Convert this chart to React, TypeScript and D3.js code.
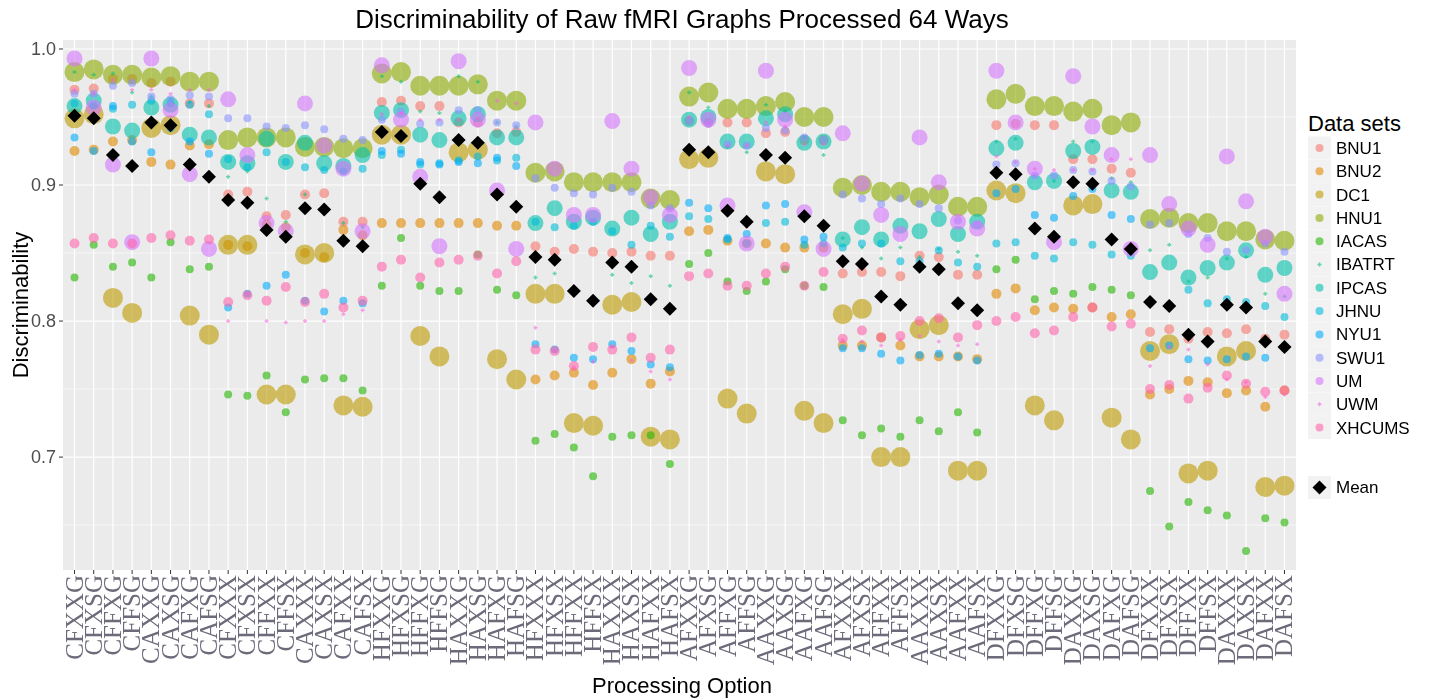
import React from 'react';
import * as d3 from 'd3';

const seriesNames = ['BNU1', 'BNU2', 'DC1', 'HNU1', 'IACAS', 'IBATRT', 'IPCAS', 'JHNU', 'NYU1', 'SWU1', 'UM', 'UWM', 'XHCUMS'];
const seriesColors = ['#F8766D', '#E18A00', '#BE9C00', '#8CAB00', '#24B700', '#00BE70', '#00C1AB', '#00BBDA', '#00ACFC', '#8B93FF', '#D575FE', '#F962DD', '#FF65AC'];
const pointRadius = [5, 5, 10, 10, 4, 1.8, 8, 4, 4, 4, 8, 1.8, 5];

// category labels: 4 x 16 processing options
const c1 = ['C', 'H', 'A', 'D'];
const categories = d3.range(64).map(i =>
  c1[Math.floor(i / 16)] + ((i % 8) < 4 ? 'F' : 'A') + ((i % 4) < 2 ? 'X' : 'F') + (i % 2 === 0 ? 'X' : 'S') + ((i % 16) < 8 ? 'G' : 'X'));

const BNU1 = [.970,.971,.978,.978,.975,.976,.960,.960,.893,.895,.877,.878,.893,.894,.873,.873,
  .961,.962,.958,.958,.946,.946,.938,.939,.855,.851,.853,.851,.850,.851,.848,.848,
  .947,.946,.946,.946,.938,.939,.933,.933,.835,.836,.836,.833,.848,.847,.834,.834,
  .944,.945,.944,.944,.919,.919,.912,.909,.792,.794,.787,.792,.791,.794,.787,.790];
const BNU2 = [.925,.926,.932,.933,.917,.915,.929,.930,.856,.855,.871,.869,.850,.847,.867,.863,
  .872,.872,.872,.872,.872,.872,.870,.870,.757,.760,.762,.753,.762,.772,.754,.763,
  .866,.867,.859,.857,.857,.854,.854,.854,.782,.782,.788,.782,.774,.774,.774,.772,
  .820,.824,.808,.810,.809,.810,.803,.805,.746,.750,.756,.755,.747,.749,.737,.749];
const DC1 = [.949,.952,.817,.806,.942,.944,.804,.790,.856,.856,.746,.746,.849,.850,.738,.737,
  .937,.937,.789,.774,.924,.926,.772,.757,.820,.820,.725,.723,.812,.814,.715,.713,
  .919,.920,.743,.732,.910,.908,.734,.725,.805,.809,.700,.700,.794,.797,.690,.690,
  .896,.894,.738,.727,.885,.886,.729,.713,.778,.783,.688,.690,.774,.778,.678,.679];
const HNU1 = [.983,.985,.981,.981,.979,.980,.976,.976,.933,.935,.935,.935,.928,.928,.927,.927,
  .982,.983,.973,.973,.973,.974,.962,.962,.909,.910,.902,.902,.902,.902,.890,.889,
  .965,.968,.956,.956,.958,.961,.950,.950,.898,.900,.895,.895,.891,.893,.884,.884,
  .963,.967,.958,.958,.954,.956,.944,.946,.875,.876,.872,.872,.866,.866,.860,.859];
const IACAS = [.832,.856,.840,.843,.832,.858,.838,.840,.746,.745,.760,.733,.757,.758,.758,.749,
  .826,.861,.826,.822,.822,.849,.823,.819,.712,.717,.707,.686,.715,.716,.716,.695,
  .842,.850,.829,.822,.829,.838,.826,.825,.727,.716,.721,.715,.727,.719,.733,.718,
  .838,.845,.816,.822,.820,.825,.823,.819,.675,.649,.667,.661,.657,.631,.655,.652];
const IBATRT = [.983,.981,.982,.968,.965,.963,.961,.958,.906,.910,.890,.873,.893,.883,.872,.869,
  .980,.976,.954,.953,.980,.976,.946,.943,.832,.835,.821,.812,.834,.828,.833,.826,
  .968,.957,.928,.924,.959,.954,.935,.922,.861,.854,.846,.854,.847,.853,.851,.848,
  .932,.934,.907,.903,.932,.932,.905,.902,.852,.856,.829,.832,.846,.847,.820,.818];
const IPCAS = [.958,.962,.943,.940,.957,.959,.937,.935,.917,.916,.934,.917,.931,.916,.914,.922,
  .953,.955,.937,.933,.949,.952,.935,.935,.872,.883,.873,.876,.868,.876,.864,.873,
  .948,.950,.932,.932,.949,.952,.931,.932,.860,.869,.860,.870,.866,.875,.864,.873,
  .927,.931,.902,.903,.925,.928,.896,.895,.836,.843,.832,.839,.843,.852,.834,.839];
const JHNU = [.960,.958,.956,.959,.962,.960,.959,.952,.919,.913,.924,.917,.913,.911,.910,.912,
  .922,.926,.915,.916,.918,.921,.918,.920,.873,.869,.870,.873,.866,.856,.870,.862,
  .877,.875,.860,.857,.872,.873,.856,.857,.854,.857,.857,.844,.844,.852,.843,.840,
  .857,.858,.848,.846,.858,.856,.849,.848,.814,.812,.823,.813,.816,.814,.811,.803];
const NYU1 = [.935,.925,.958,.932,.924,.942,.932,.923,.810,.820,.826,.834,.815,.807,.815,.813,
  .925,.923,.917,.915,.917,.916,.920,.914,.783,.779,.773,.772,.783,.778,.768,.766,
  .887,.883,.861,.864,.885,.886,.860,.862,.780,.780,.776,.771,.775,.776,.774,.771,
  .894,.897,.878,.876,.892,.897,.878,.875,.780,.782,.772,.771,.772,.774,.773,.780];
const SWU1 = [.967,.967,.973,.975,.965,.963,.966,.965,.949,.949,.943,.942,.944,.941,.934,.933,
  .948,.954,.945,.946,.955,.955,.946,.944,.905,.898,.894,.893,.898,.895,.885,.883,
  .947,.945,.930,.929,.942,.940,.935,.933,.893,.890,.886,.890,.886,.883,.874,.871,
  .915,.916,.907,.907,.911,.910,.903,.899,.871,.872,.864,.861,.851,.852,.857,.851];
const UM = [.993,.957,.915,.858,.993,.955,.908,.853,.963,.922,.872,.866,.960,.929,.912,.866,
  .988,.948,.906,.855,.991,.948,.896,.853,.946,.912,.878,.878,.947,.912,.891,.878,
  .986,.948,.885,.857,.984,.948,.880,.853,.938,.901,.878,.864,.935,.902,.873,.868,
  .984,.946,.912,.858,.980,.943,.922,.853,.922,.886,.868,.856,.921,.888,.862,.820];
const UWM = [.970,.967,.977,.970,.970,.967,.970,.970,.800,.820,.800,.799,.800,.800,.805,.808,
  .952,.953,.948,.948,.948,.949,.962,.960,.795,.778,.766,.770,.781,.771,.763,.757,
  .950,.946,.929,.929,.946,.943,.930,.930,.786,.785,.782,.786,.789,.785,.782,.783,
  .921,.917,.912,.911,.911,.911,.919,.919,.767,.781,.779,.768,.757,.755,.744,.746];
const XHCUMS = [.857,.861,.857,.857,.861,.863,.859,.860,.814,.819,.815,.825,.814,.820,.810,.815,
  .840,.845,.832,.843,.845,.848,.835,.844,.779,.778,.767,.781,.779,.788,.773,.779,
  .833,.835,.826,.826,.835,.840,.826,.836,.787,.793,.788,.789,.800,.802,.788,.797,
  .800,.803,.791,.793,.803,.810,.796,.798,.750,.753,.743,.751,.760,.754,.748,.749];
const meanValues = [.951,.949,.922,.914,.946,.944,.915,.906,.889,.887,.867,.862,.883,.882,.859,.855,
  .939,.936,.901,.891,.933,.931,.893,.884,.847,.845,.822,.815,.843,.840,.816,.809,
  .926,.924,.881,.873,.922,.920,.877,.870,.844,.842,.818,.812,.840,.838,.813,.808,
  .909,.908,.868,.862,.902,.901,.860,.853,.814,.811,.790,.785,.812,.810,.785,.781];

const seriesValues = [BNU1, BNU2, DC1, HNU1, IACAS, IBATRT, IPCAS, JHNU, NYU1, SWU1, UM, UWM, XHCUMS];
const yTicks = [0.7, 0.8, 0.9, 1.0];

const W = 1436, H = 700;
const left = 63, right = 1296, top = 40, bottom = 570;
const FONT = '"Liberation Sans", Arial, sans-serif';
const DIAMOND = 'M0,-7L7,0L0,7L-7,0Z';
const PLUS = 'M-2,0H2M0,-2V2';

const App = () => {
  const x = d3.scalePoint<string>().domain(categories).range([left, right]).padding(0.6);
  const y = d3.scaleLinear().domain([0.617, 1.0066]).range([bottom, top]);
  const minor = d3.range(0.65, 1.0, 0.1);
  const isPlus = (s: number) => s === 5 || s === 11;

  return (
    <svg width={W} height={H} style={{ position: 'absolute', left: 0, top: 0 }}>
      <rect width={W} height={H} fill="#fff" />
      <rect x={left} y={top} width={right - left} height={bottom - top} fill="#ebebeb" />
      {minor.map(v => <line key={'m' + v} x1={left} x2={right} y1={y(v)} y2={y(v)} stroke="#fff" strokeWidth={0.6} />)}
      {yTicks.map(v => <line key={'g' + v} x1={left} x2={right} y1={y(v)} y2={y(v)} stroke="#fff" strokeWidth={1.2} />)}
      {categories.map(c => <line key={'v' + c} x1={x(c)} x2={x(c)} y1={top} y2={bottom} stroke="#fff" strokeWidth={1.2} />)}

      {seriesValues.map((vals, s) => (
        <g key={seriesNames[s]} fill={seriesColors[s]} opacity={0.6}>
          {vals.map((v, i) => (
            isPlus(s)
              ? <path key={i} transform={`translate(${x(categories[i])},${y(v)})`} d={PLUS} stroke={seriesColors[s]} strokeWidth={1.5} />
              : <circle key={i} cx={x(categories[i])} cy={y(v)} r={pointRadius[s]} />
          ))}
        </g>
      ))}
      {meanValues.map((v, i) => (
        <path key={'mean' + i} d={DIAMOND} transform={`translate(${x(categories[i])},${y(v)})`} fill="#000" />
      ))}

      {yTicks.map(v => (
        <g key={'t' + v}>
          <line x1={left - 4} x2={left} y1={y(v)} y2={y(v)} stroke="#333" />
          <text x={left - 7} y={y(v)} dy="0.35em" textAnchor="end" fontFamily={FONT} fontSize={18} fill="#4d4d4d">{v.toFixed(1)}</text>
        </g>
      ))}
      {categories.map(c => (
        <g key={'x' + c}>
          <line x1={x(c)} x2={x(c)} y1={bottom} y2={bottom + 4} stroke="#333" />
          <text transform={`translate(${(x(c) as number) + 8},${bottom + 5}) rotate(-90)`} textAnchor="end"
            fontFamily='"Liberation Serif", serif' fontSize={25} fill="#6b6b7a">{c}</text>
        </g>
      ))}

      <text x={682} y={28} textAnchor="middle" fontFamily={FONT} fontSize={26}>Discriminability of Raw fMRI Graphs Processed 64 Ways</text>
      <text x={682} y={693} textAnchor="middle" fontFamily={FONT} fontSize={22}>Processing Option</text>
      <text transform={`translate(28,${(top + bottom) / 2}) rotate(-90)`} textAnchor="middle" fontFamily={FONT} fontSize={22}>Discriminability</text>

      <text x={1308} y={131} fontFamily={FONT} fontSize={22}>Data sets</text>
      {seriesNames.map((n, s) => {
        const cy = 148 + s * 23.3;
        return (
          <g key={'l' + n}>
            <rect x={1308} y={cy - 11.5} width={23} height={23} fill="#f2f2f2" />
            {isPlus(s)
              ? <path d={PLUS} transform={`translate(1319.5,${cy})`} stroke={seriesColors[s]} strokeWidth={1.5} opacity={0.6} />
              : <circle cx={1319.5} cy={cy} r={Math.min(pointRadius[s], 4)} fill={seriesColors[s]} opacity={0.6} />}
            <text x={1336} y={cy} dy="0.35em" fontFamily={FONT} fontSize={17}>{n}</text>
          </g>
        );
      })}
      <rect x={1308} y={476} width={23} height={23} fill="#f2f2f2" />
      <path d={DIAMOND} transform="translate(1319.5,487.5)" fill="#000" />
      <text x={1336} y={487.5} dy="0.35em" fontFamily={FONT} fontSize={17}>Mean</text>
    </svg>
  );
};

export default App;
